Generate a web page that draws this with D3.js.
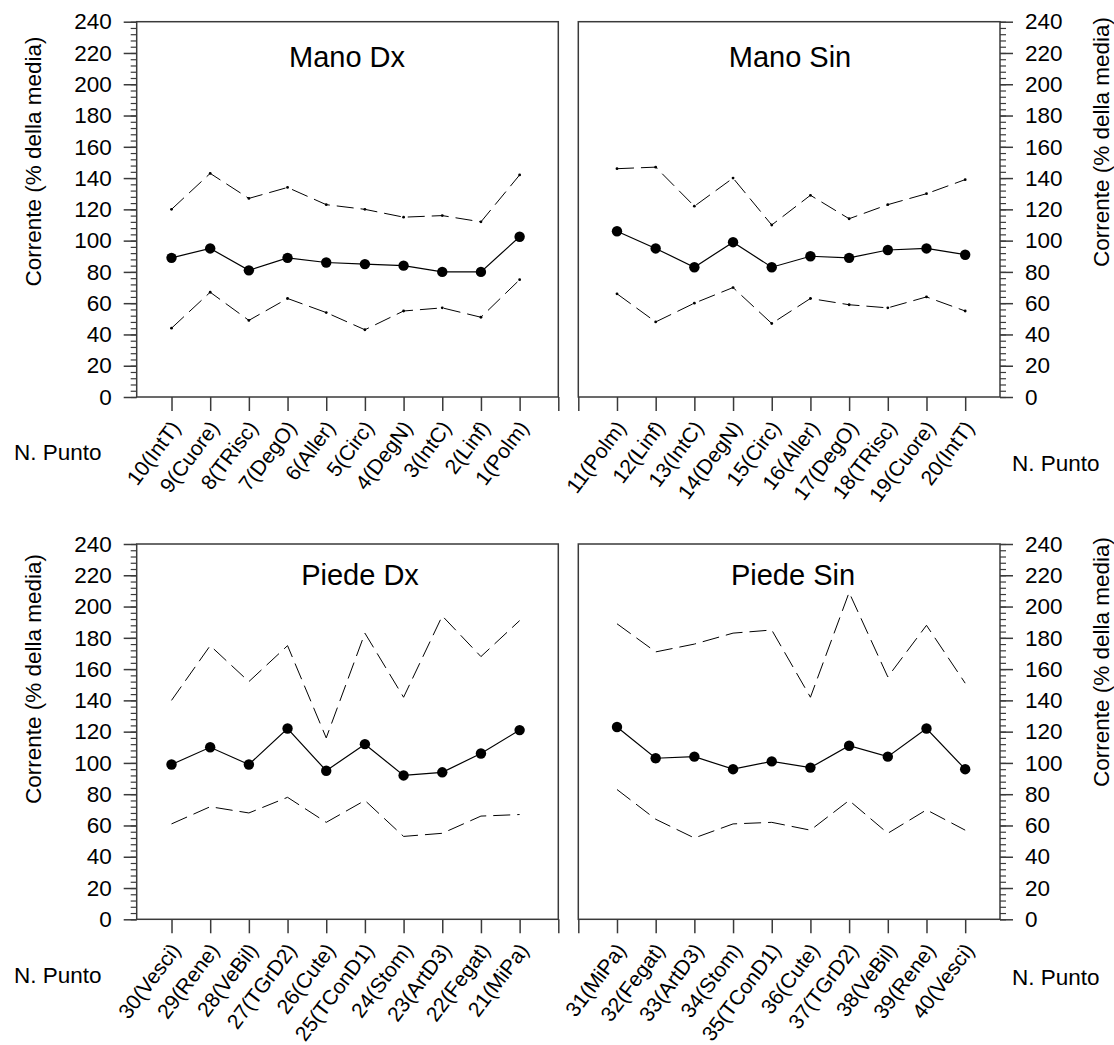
<!DOCTYPE html>
<html>
<head>
<meta charset="utf-8">
<script src="https://cdn.jsdelivr.net/npm/d3@7"></script>
<style>
  html, body { margin: 0; padding: 0; background: #fff; }
  svg { display: block; font-family: "Liberation Sans", Arial, sans-serif; }
</style>
</head>
<body>
<svg id="chart" width="1114" height="1045"></svg>
<script>
// tick labels
const yTickValues = [0, 20, 40, 60, 80, 100, 120, 140, 160, 180, 200, 220, 240];

// Mano Dx
const manoDxLabels = ['10(IntT)', '9(Cuore)', '8(TRisc)', '7(DegO)', '6(Aller)', '5(Circ)', '4(DegN)', '3(IntC)', '2(Linf)', '1(Polm)'];
const manoDxMean = [89, 95, 81, 89, 86, 85, 84, 80, 80, 102.5];
const manoDxUpper = [120, 143, 127, 134, 123, 120, 115, 116, 112, 142];
const manoDxLower = [44, 67, 49, 63, 54, 43, 55, 57, 51, 75];

// Mano Sin
const manoSinLabels = ['11(Polm)', '12(Linf)', '13(IntC)', '14(DegN)', '15(Circ)', '16(Aller)', '17(DegO)', '18(TRisc)', '19(Cuore)', '20(IntT)'];
const manoSinMean = [106, 95, 83, 99, 83, 90, 89, 94, 95, 91];
const manoSinUpper = [146, 147, 122, 140, 110, 129, 114, 123, 130, 139];
const manoSinLower = [66, 48, 60, 70, 47, 63, 59, 57, 64, 55];

// Piede Dx
const piedeDxLabels = ['30(Vesci)', '29(Rene)', '28(VeBil)', '27(TGrD2)', '26(Cute)', '25(TConD1)', '24(Stom)', '23(ArtD3)', '22(Fegat)', '21(MiPa)'];
const piedeDxMean = [99, 110, 99, 122, 95, 112, 92, 94, 106, 121];
const piedeDxUpper = [140, 175, 152, 175, 116, 183, 142, 194, 168, 191];
const piedeDxLower = [61, 72, 68, 78, 62, 76, 53, 55, 66, 67];

// Piede Sin
const piedeSinLabels = ['31(MiPa)', '32(Fegat)', '33(ArtD3)', '34(Stom)', '35(TConD1)', '36(Cute)', '37(TGrD2)', '38(VeBil)', '39(Rene)', '40(Vesci)'];
const piedeSinMean = [123, 103, 104, 96, 101, 97, 111, 104, 122, 96];
const piedeSinUpper = [189, 171, 176, 183, 185, 142, 209, 155, 188, 151];
const piedeSinLower = [83, 64, 52, 61, 62, 57, 76, 55, 70, 57];

const yLabel = 'Corrente (% della media)';
const xLabel = 'N. Punto';

const frameColor = '#3a3a3a';

const panels = [
  { title: 'Mano Dx', labels: manoDxLabels, mean: manoDxMean, upper: manoDxUpper, lower: manoDxLower,
    side: 'left', top: 21.7, titleX: 347, titleY: 66.5, yLabelY: 161.5, xLabelY: 460, markers: true },
  { title: 'Mano Sin', labels: manoSinLabels, mean: manoSinMean, upper: manoSinUpper, lower: manoSinLower,
    side: 'right', top: 21.7, titleX: 790, titleY: 66.5, yLabelY: 142, xLabelY: 471, markers: true },
  { title: 'Piede Dx', labels: piedeDxLabels, mean: piedeDxMean, upper: piedeDxUpper, lower: piedeDxLower,
    side: 'left', top: 544, titleX: 360, titleY: 585, yLabelY: 679, xLabelY: 983, markers: false },
  { title: 'Piede Sin', labels: piedeSinLabels, mean: piedeSinMean, upper: piedeSinUpper, lower: piedeSinLower,
    side: 'right', top: 544, titleX: 793, titleY: 585, yLabelY: 662, xLabelY: 985, markers: false },
];

const plotH = 375.3;
const svg = d3.select('#chart');

panels.forEach((p) => drawPanel(p));

function drawPanel(p) {
  const isLeft = p.side === 'left';
  const x0 = isLeft ? 136.7 : 578.3;
  const x1 = isLeft ? 558.3 : 1000;
  const bottom = p.top + plotH;

  const x = d3.scaleLinear()
    .domain(isLeft ? [0.1, 11] : [0, 10.9])
    .range([x0, x1]);
  const y = d3.scaleLinear().domain([0, 240]).range([bottom, p.top]);

  const g = svg.append('g');

  // minor y ticks
  const minorAxis = (isLeft ? d3.axisLeft(y) : d3.axisRight(y))
    .tickValues(d3.range(0, 241, 4))
    .tickSize(6)
    .tickSizeOuter(0)
    .tickFormat('');
  g.append('g')
    .attr('transform', `translate(${isLeft ? x0 : x1},0)`)
    .call(minorAxis)
    .call((s) => s.select('.domain').remove())
    .call((s) => s.selectAll('line').attr('stroke', frameColor).attr('stroke-width', 1.2));

  // major y ticks
  const majorAxis = (isLeft ? d3.axisLeft(y) : d3.axisRight(y))
    .tickValues(yTickValues)
    .tickSize(13)
    .tickSizeOuter(0)
    .tickPadding(12);
  g.append('g')
    .attr('transform', `translate(${isLeft ? x0 : x1},0)`)
    .call(majorAxis)
    .call((s) => s.select('.domain').remove())
    .call((s) => s.selectAll('line').attr('stroke', frameColor).attr('stroke-width', 1.5))
    .call((s) => s.selectAll('text')
      .attr('fill', '#000')
      .attr('font-size', '22.5px')
      .attr('font-family', '"Liberation Sans", Arial, sans-serif'));

  // x ticks
  const xTicks = isLeft ? [1, 2, 3, 4, 5, 6, 7, 8, 9, 10, 11] : [0, 1, 2, 3, 4, 5, 6, 7, 8, 9, 10];
  g.append('g')
    .attr('transform', `translate(0,${bottom})`)
    .call(d3.axisBottom(x).tickValues(xTicks).tickSize(14).tickSizeOuter(0).tickFormat(''))
    .call((s) => s.select('.domain').remove())
    .call((s) => s.selectAll('line').attr('stroke', frameColor).attr('stroke-width', 1.5));

  // frame
  g.append('rect')
    .attr('x', x0)
    .attr('y', p.top)
    .attr('width', x1 - x0)
    .attr('height', plotH)
    .attr('fill', 'none')
    .attr('stroke', frameColor)
    .attr('stroke-width', 1.5);

  // rotated category labels
  g.append('g')
    .selectAll('text')
    .data(p.labels)
    .join('text')
    .attr('transform', (d, i) => `translate(${x(i + 1) + 10},${bottom + 31}) rotate(-53)`)
    .attr('text-anchor', 'end')
    .attr('font-size', '21px')
    .text((d) => d);

  const line = d3.line()
    .x((d, i) => x(i + 1))
    .y((d) => y(d));

  // confidence band lines
  [p.upper, p.lower].forEach((vals) => {
    g.append('path')
      .datum(vals)
      .attr('d', line)
      .attr('fill', 'none')
      .attr('stroke', '#000')
      .attr('stroke-width', 1)
      .attr('stroke-dasharray', '17,7');
    if (p.markers) {
      g.append('g')
        .selectAll('circle')
        .data(vals)
        .join('circle')
        .attr('cx', (d, i) => x(i + 1))
        .attr('cy', (d) => y(d))
        .attr('r', 1.4)
        .attr('fill', '#000');
    }
  });

  // mean line
  g.append('path')
    .datum(p.mean)
    .attr('d', line)
    .attr('fill', 'none')
    .attr('stroke', '#000')
    .attr('stroke-width', 1.2);

  g.append('g')
    .selectAll('circle')
    .data(p.mean)
    .join('circle')
    .attr('cx', (d, i) => x(i + 1))
    .attr('cy', (d) => y(d))
    .attr('r', 5.2)
    .attr('fill', '#000');

  // title
  g.append('text')
    .attr('x', p.titleX)
    .attr('y', p.titleY)
    .attr('text-anchor', 'middle')
    .attr('font-size', '29px')
    .text(p.title);

  // y label
  g.append('text')
    .attr('transform', `translate(${isLeft ? 41 : 1109},${p.yLabelY}) rotate(-90)`)
    .attr('text-anchor', 'middle')
    .attr('font-size', '22.5px')
    .text(yLabel);

  // x label
  g.append('text')
    .attr('x', isLeft ? 14 : 1012)
    .attr('y', p.xLabelY)
    .attr('font-size', '22.5px')
    .text(xLabel);
}
</script>
</body>
</html>
